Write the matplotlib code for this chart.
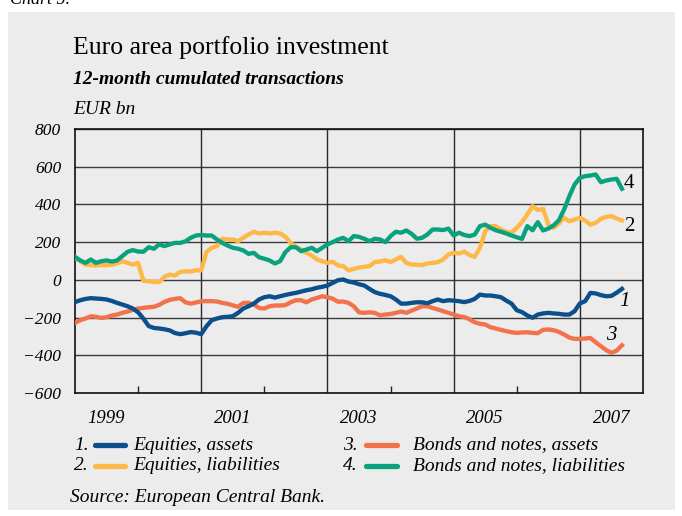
import numpy as np
import matplotlib
matplotlib.use('Agg')
import matplotlib.pyplot as plt
import matplotlib.patches as patches
from matplotlib.lines import Line2D

plt.rcParams['font.family'] = ['Liberation Serif', 'DejaVu Serif']

# monthly 12-month cumulated transactions, Jan 1999 .. Sep 2007 (EUR bn)
start_year = 1999
eq_assets = [-118, -108, -101, -97, -99, -101, -104, -112, -122, -131,
             -140, -152, -172, -205, -245, -255, -258, -262, -268, -282,
             -288, -283, -277, -280, -288, -246, -214, -205, -198, -196,
             -193, -175, -152, -140, -126, -104, -92, -87, -94, -87,
             -80, -74, -69, -62, -55, -50, -42, -37, -30, -16,
             -2, 2, -9, -14, -23, -30, -48, -65, -74, -80,
             -87, -104, -126, -126, -122, -119, -119, -124, -113, -104,
             -113, -108, -110, -113, -118, -112, -101, -78, -83, -83,
             -87, -92, -110, -126, -161, -171, -189, -201, -184, -178,
             -175, -178, -180, -184, -184, -166, -125, -113, -69, -72,
             -81, -87, -85, -68, -48]
eq_liab = [117, 99, 81, 78, 76, 78, 78, 80, 87, 99,
           90, 81, 90, -5, -7, -11, -12, 16, 28, 23,
           42, 46, 44, 51, 50, 148, 170, 179, 218, 214,
           214, 205, 223, 241, 255, 246, 250, 246, 250, 246,
           228, 196, 175, 161, 143, 129, 108, 99, 90, 96,
           77, 73, 50, 58, 65, 69, 73, 94, 97, 104,
           94, 108, 122, 90, 81, 81, 78, 87, 90, 94,
           108, 135, 143, 140, 150, 132, 122, 170, 258, 285,
           285, 267, 255, 249, 276, 308, 346, 391, 370, 377,
           293, 276, 299, 329, 311, 320, 329, 315, 293, 302,
           324, 334, 338, 325, 315]
bonds_assets = [-228, -214, -205, -193, -196, -202, -198, -189, -184, -175,
                -168, -159, -152, -149, -145, -143, -133, -117, -106, -101,
                -97, -119, -126, -120, -113, -113, -113, -115, -122, -127,
                -135, -143, -122, -122, -131, -149, -152, -140, -136, -136,
                -134, -119, -108, -108, -119, -104, -96, -87, -92, -100,
                -116, -115, -122, -140, -172, -175, -172, -175, -188, -184,
                -181, -175, -168, -175, -163, -152, -140, -140, -149, -157,
                -166, -175, -184, -193, -197, -209, -225, -233, -237, -251,
                -258, -265, -272, -278, -281, -279, -278, -281, -283, -265,
                -263, -267, -276, -290, -306, -313, -313, -311, -308, -331,
                -352, -373, -387, -375, -347]
bonds_liab = [122, 103, 90, 108, 90, 99, 103, 97, 103, 126,
              149, 158, 150, 149, 173, 165, 188, 179, 188, 196,
              196, 204, 223, 235, 238, 235, 235, 214, 196, 182,
              170, 165, 156, 138, 143, 120, 112, 103, 87, 99,
              147, 173, 173, 152, 161, 170, 152, 170, 188, 200,
              214, 223, 205, 232, 228, 218, 205, 218, 214, 200,
              232, 255, 250, 262, 244, 218, 223, 241, 267, 267,
              264, 272, 235, 250, 238, 232, 240, 285, 293, 276,
              263, 255, 246, 235, 226, 217, 285, 263, 306, 262,
              272, 288, 316, 373, 444, 506, 541, 550, 553, 559,
              518, 527, 532, 536, 483]

year_labels = ['1999', '2001', '2003', '2005', '2007']
y_ticks = [-600, -400, -200, 0, 200, 400, 600, 800]

c_blue = '#0b4f8c'
c_yellow = '#fdb848'
c_red = '#f2724c'
c_green = '#0aa27e'
bg = '#ececec'

n = len(eq_assets)
x = start_year + np.arange(n) / 12.0

fig = plt.figure(figsize=(6.82, 5.16), dpi=100)
fig.patch.set_facecolor('white')
fig.patches.append(patches.Rectangle((8 / 682, 1 - 510 / 516), 667 / 682, 498 / 516,
                                     transform=fig.transFigure, facecolor=bg,
                                     edgecolor='none', zorder=-10))
fig.text(10 / 682, 1 - 4 / 516, 'Chart 5.', fontsize=13, style='italic', va='baseline')

ax = fig.add_axes([75 / 682, 1 - 393 / 516, 568 / 682, 264 / 516])
ax.set_zorder(2)
ax.set_facecolor(bg)

ax.set_xlim(1999, 2008)
ax.set_ylim(-600, 800)

for v in y_ticks:
    ax.axhline(v, color='#3a3a3a', lw=1.0, zorder=1)
for yr in [2001, 2003, 2005, 2007]:
    ax.axvline(yr, color='#2a2a2a', lw=1.0, zorder=1)

lw = 3.1
ax.plot(x, eq_liab, color=c_yellow, lw=lw, zorder=3, solid_joinstyle='round')
ax.plot(x, bonds_liab, color=c_green, lw=lw, zorder=4, solid_joinstyle='round')
ax.plot(x, bonds_assets, color=c_red, lw=lw, zorder=3, solid_joinstyle='round')
ax.plot(x, eq_assets, color=c_blue, lw=lw, zorder=4, solid_joinstyle='round')

# series numbers at line ends
lab_kw = dict(textcoords='offset points', fontsize=15, ha='center', va='center')
ax.annotate('4', (x[-1], bonds_liab[-1]), xytext=(5, 4), **lab_kw)
ax.annotate('2', (x[-1], eq_liab[-1]), xytext=(5, -4), **lab_kw)
ax.annotate('1', (x[-1], eq_assets[-1]), xytext=(2, -9), style='italic', **lab_kw)
ax.annotate('3', (x[-1], bonds_assets[-1]), xytext=(-8, 7), style='italic', **lab_kw)

ax.set_yticks(y_ticks)
ax.set_yticklabels([str(v).replace('-', '\u2212') for v in y_ticks], fontstyle='italic', fontsize=12.5)
ax.tick_params(axis='y', length=0, pad=10)

ax.set_xticks([yr + 0.5 for yr in range(1999, 2008, 2)])
ax.set_xticklabels(year_labels, fontstyle='italic', fontsize=13.5)
ax.tick_params(axis='x', which='major', length=0, pad=12)
ax.set_xticks([2000, 2002, 2004, 2006], minor=True)
ax.tick_params(axis='x', which='minor', direction='in', length=5, width=1.0, color='#222222')

for s in ax.spines.values():
    s.set_color('#111111')
    s.set_linewidth(1.2)

# titles
fig.text(73 / 682, 1 - 48 / 516, 'Euro area portfolio investment', fontsize=18.5, va='center')
fig.text(73 / 682, 1 - 80 / 516, '12-month cumulated transactions', fontsize=14,
         style='italic', weight='bold', va='center')
fig.text(73 / 682, 1 - 110 / 516, 'EUR bn', fontsize=14, style='italic', va='center')

# legend
legend_items = [('1.', c_blue, 'Equities, assets', 0, 0),
                ('2.', c_yellow, 'Equities, liabilities', 0, 1),
                ('3.', c_red, 'Bonds and notes, assets', 1, 0),
                ('4.', c_green, 'Bonds and notes, liabilities', 1, 1)]
col_x = [(89, 95, 125, 133), (358, 366, 397, 413)]
row_y = [445, 466]
for num, col, text, c, r in legend_items:
    nx, l0, l1, tx = col_x[c]
    yy = 1 - row_y[r] / 516
    fig.text(nx / 682, yy, num, fontsize=14, ha='right', va='center', style='italic')
    fig.add_artist(Line2D([l0 / 682, l1 / 682], [yy, yy], color=col, lw=3.8,
                          solid_capstyle='round', transform=fig.transFigure))
    fig.text(tx / 682, yy, text, fontsize=14, ha='left', va='center', style='italic')

fig.text(70 / 682, 1 - 497 / 516, 'Source: European Central Bank.', fontsize=14,
         style='italic', va='center')

fig.savefig('out.png', dpi=100, facecolor='white')
